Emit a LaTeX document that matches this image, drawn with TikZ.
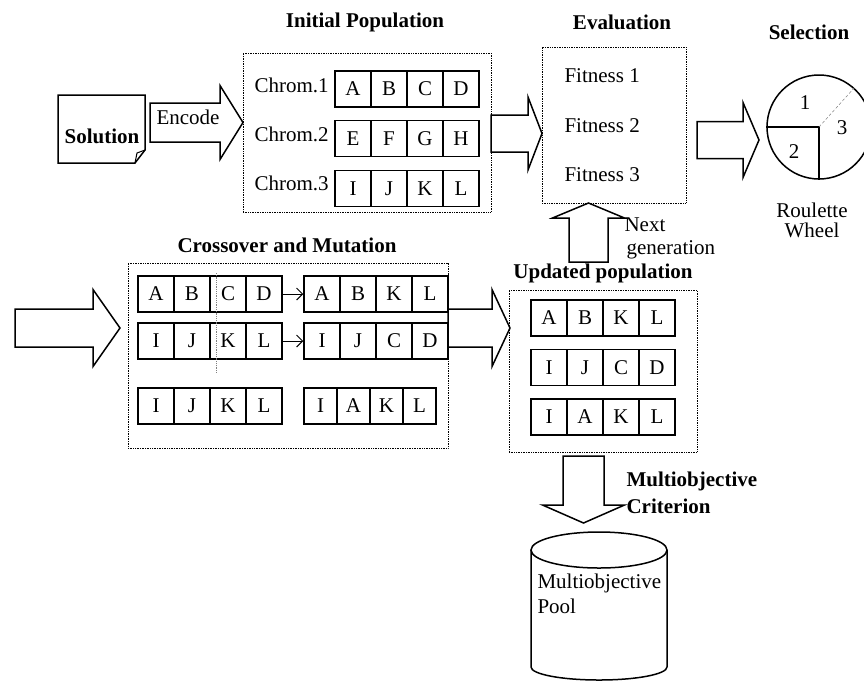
\documentclass[tikz,border=0pt]{standalone}
\usepackage{fontspec}
\setmainfont{Liberation Serif}
\usepackage{tikz}
\usetikzlibrary{arrows.meta}

\newcommand{\fsize}{\fontsize{21}{25}\selectfont}

\tikzset{
  cell/.style={draw, line width=1.5pt, minimum height=36pt, inner sep=0pt},
  frame/.style={draw, densely dotted, line width=0.7pt, inner sep=0pt},
  title/.style={font=\fsize\bfseries},
  bigarrow/.style={draw, line width=1.5pt, fill=white, line join=miter},
  gene arrow/.style={-{Straight Barb[length=6pt, width=12pt]}, line width=1pt},
}

% row of genes: name, first centre x, y, cell width, letters
\newcommand{\chromrow}[5]{%
  \foreach \l [count=\i] in {#5}
    \node[cell, minimum width=#4pt] (#1-\i) at ({#2+#4*(\i-1)},#3) {\l};
}
% block arrow to the right: x start, x head, x tip, y centre, half shaft, half head
\newcommand{\rarrow}[6]{%
  \draw[bigarrow] (#1,{#4-#5}) -- (#2,{#4-#5}) -- (#2,{#4-#6}) -- (#3,#4)
    -- (#2,{#4+#6}) -- (#2,{#4+#5}) -- (#1,{#4+#5}) -- cycle;
}
% block arrow up or down: x centre, y start, y head, y tip, half shaft, half head
\newcommand{\varrow}[6]{%
  \draw[bigarrow] ({#1-#5},#2) -- ({#1-#5},#3) -- ({#1-#6},#3) -- (#1,#4)
    -- ({#1+#6},#3) -- ({#1+#5},#3) -- ({#1+#5},#2) -- cycle;
}

\begin{document}
\begin{tikzpicture}[x=1pt, y=-1pt, font=\fsize]
\useasboundingbox (0,0) rectangle (864,697);

% Solution
\draw[line width=1.5pt] (58,95) -- (145,95) -- (145,150) -- (135,163) -- (58,163) -- cycle;
\draw[line width=1pt] (145,150) -- (137,153) -- (135,163);
\node[title] (sol) at (102,136) {Solution};

% Encode
\rarrow{150}{220}{243}{122.5}{19.5}{37}
\node (enc) at (188,117) {Encode};

% Initial population
\node[title] (tinit) at (365,22) {Initial Population};
\node[frame, minimum width=248pt, minimum height=159pt] (init) at (367,132.5) {};
\chromrow{ch1}{353}{89}{36}{A,B,C,D}
\chromrow{ch2}{353}{138.5}{36}{E,F,G,H}
\chromrow{ch3}{353}{188.5}{36}{I,J,K,L}
\node[anchor=west] (lab1) at (251,85) {Chrom.1};
\node[anchor=west] (lab2) at (251,134) {Chrom.2};
\node[anchor=west] (lab3) at (251,183) {Chrom.3};

% Evaluation
\node[title] (teval) at (622,22) {Evaluation};
\node[frame, minimum width=144pt, minimum height=156pt] (eval) at (614,125) {};
\node[anchor=west] (fit1) at (561,76) {Fitness 1};
\node[anchor=west] (fit2) at (561,126) {Fitness 2};
\node[anchor=west] (fit3) at (561,175) {Fitness 3};
\rarrow{491}{528}{542}{133.5}{18.5}{36.5}

% Selection
\node[title] (tsel) at (809,32) {Selection};
\rarrow{697}{743}{759}{140}{18.5}{37.5}
\node[draw, circle, line width=1.5pt, minimum size=104pt, inner sep=0pt] (wheel) at (819,127) {};
\draw[line width=1.5pt] (wheel.west) -- (wheel.center) -- (wheel.south);
\draw[densely dashed, gray, line width=0.5pt] (wheel.center) -- (wheel.48);
\node (w1) at (805,103) {1};
\node (w2) at (794,152) {2};
\node (w3) at (842,128) {3};
\node[align=center, font=\fontsize{21}{20}\selectfont] (roul) at (812,220) {Roulette\\Wheel};

% Next generation
\varrow{588.5}{262}{218}{203}{19.5}{36}
\node[anchor=west, align=left, font=\fontsize{21}{23}\selectfont] (nextgen) at (621,238) {Next\\\hspace*{2pt}generation};

% Crossover and mutation
\node[title] (tcross) at (287,245) {Crossover and Mutation};
\node[frame, minimum width=320pt, minimum height=185pt] (cross) at (288,355.5) {};
\rarrow{15}{93}{120}{328}{19}{38.5}
\chromrow{p1}{156}{294}{36}{A,B,C,D}
\chromrow{p2}{156}{341}{36}{I,J,K,L}
\chromrow{p3}{156}{406}{36}{I,J,K,L}
\chromrow{o1}{322}{294}{36}{A,B,K,L}
\chromrow{o2}{322}{341}{36}{I,J,C,D}
\chromrow{o3}{320.5}{406}{33}{I,A,K,L}
\draw[gene arrow] (p1-4.east) -- (o1-1.west);
\draw[gene arrow] (p2-4.east) -- (o2-1.west);
% crossover point
\draw[densely dotted, gray, line width=0.8pt] (216,273) -- (216,373);

% Updated population
\node[title] (tupd) at (603,273) {Updated population};
\node[frame, minimum width=188pt, minimum height=162pt] (upd) at (603,371) {};
\rarrow{448}{492}{510}{328}{19}{38.5}
\chromrow{u1}{549}{318}{36}{A,B,K,L}
\chromrow{u2}{549}{367.5}{36}{I,J,C,D}
\chromrow{u3}{549}{417}{36}{I,A,K,L}

% Multiobjective pool
\varrow{583.5}{456}{505}{523}{20.5}{41}
\node[anchor=west, align=left, font=\fontsize{21}{27}\selectfont\bfseries] (crit) at (623,493) {Multiobjective\\Criterion};
\draw[line width=1.5pt] (531,550) -- (531,667) arc[start angle=180, end angle=0, x radius=68, y radius=13] -- (667,550);
\draw[line width=1.5pt] (599,550) ellipse[x radius=68, y radius=18];
\node[anchor=west, align=left] (pool) at (534,594) {Multiobjective\\Pool};

\end{tikzpicture}
\end{document}
